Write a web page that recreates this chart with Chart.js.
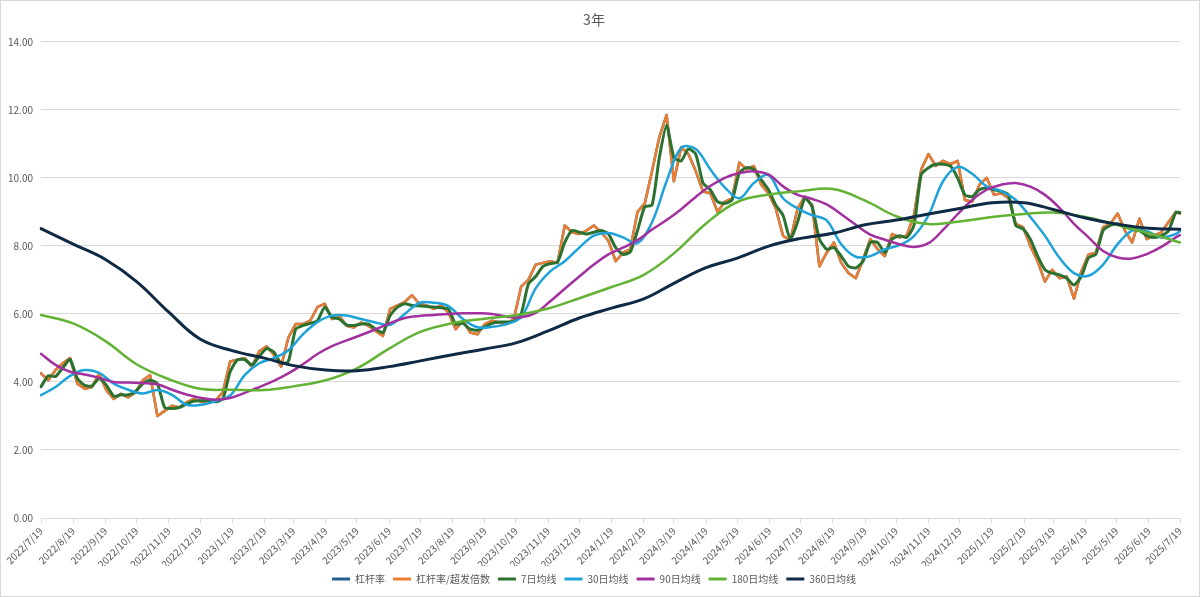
<!DOCTYPE html>
<html>
<head>
<meta charset="utf-8">
<script src="https://cdn.jsdelivr.net/npm/chart.js@4.4.1/dist/chart.umd.min.js"></script>
<style>
html,body{margin:0;padding:0;background:#fff;}
#wrap{width:1200px;height:597px;box-sizing:border-box;border:1px solid #d9d9d9;background:#fff;}
canvas{display:block;}
</style>
</head>
<body>
<div id="wrap"><canvas id="c" width="1198" height="595"></canvas></div>
<script>
// ---- categories (daily dates) ----
const startDate = '2022/7/19';
const endDate = '2025/7/19';
function buildDayLabels(a, b) {
  const p = s => { const [y, m, d] = s.split('/').map(Number); return Date.UTC(y, m - 1, d); };
  const out = [];
  for (let t = p(a); t <= p(b); t += 86400000) {
    const dt = new Date(t);
    out.push(dt.getUTCFullYear() + '/' + (dt.getUTCMonth() + 1) + '/' + dt.getUTCDate());
  }
  return out;
}
const dayLabels = buildDayLabels(startDate, endDate);
const lastIdx = dayLabels.length - 1;
const weeklyDates = dayLabels.filter((_, i) => i % 7 === 0 || i === lastIdx);
const biweeklyDates = dayLabels.filter((_, i) => i % 14 === 0 || i === lastIdx);
const tickLabels = dayLabels.filter(d => d.endsWith('/19'));
const monthlyDates = tickLabels;

// ---- series values ----
const leverage = [
  4.25, 4.05, 4.35, 4.55, 4.70, 3.95, 3.80, 3.85, 4.25, 3.75, 3.50, 3.65, 3.55, 3.70, 4.05, 4.20, 3.00, 3.15, 3.30, 3.25, 3.40, 3.50, 3.42,
  3.40, 3.45, 3.70, 4.60, 4.65, 4.70, 4.45, 4.90, 5.05, 4.80, 4.45, 5.30, 5.70, 5.70, 5.80, 6.20, 6.30, 5.85, 5.95, 5.65, 5.60, 5.75, 5.65, 5.50, 5.35, 6.15, 6.25,
  6.35, 6.55, 6.30, 6.25, 6.15, 6.25, 6.05, 5.55, 5.80, 5.45, 5.40, 5.70, 5.80, 5.75, 5.70, 5.85, 6.80, 7.00, 7.45, 7.50, 7.55, 7.50, 8.60, 8.40, 8.35, 8.45, 8.60, 8.40,
  8.15, 7.55, 7.80, 7.90, 9.00, 9.25, 10.20, 11.20, 11.85, 9.90, 10.90, 10.70, 10.20, 9.60, 9.55, 9.00, 9.30, 9.40, 10.45, 10.25, 10.35, 9.80, 9.55, 9.10, 8.30, 8.15, 9.10,
  9.45, 9.20, 7.40, 7.80, 8.10, 7.50, 7.20, 7.05, 7.60, 8.20, 7.90, 7.70, 8.35, 8.25, 8.30, 8.90, 10.25, 10.70, 10.35, 10.50, 10.40, 10.50, 9.35, 9.30, 9.80, 10.00, 9.50,
  9.55, 9.40, 8.65, 8.55, 8.00, 7.55, 6.95, 7.30, 7.05, 7.10, 6.45, 7.25, 7.75, 7.80, 8.55, 8.65, 8.95, 8.45, 8.10, 8.80, 8.20, 8.30, 8.40, 8.70, 9.00,
  8.95
];
const leverageRatio = leverage.slice();
const ma7 = [
  3.86, 4.18, 4.16, 4.42, 4.66, 4.10, 3.90, 3.88, 4.10, 3.90, 3.58, 3.62, 3.62, 3.72, 3.95, 4.05, 3.95, 3.25, 3.22, 3.25, 3.35, 3.44, 3.45,
  3.45, 3.42, 3.50, 4.30, 4.65, 4.66, 4.50, 4.75, 4.98, 4.88, 4.55, 4.60, 5.55, 5.66, 5.72, 5.80, 6.20, 5.90, 5.85, 5.68, 5.66, 5.70, 5.70, 5.55, 5.45, 5.95, 6.20,
  6.30, 6.25, 6.24, 6.22, 6.20, 6.18, 6.15, 5.70, 5.72, 5.55, 5.52, 5.62, 5.72, 5.76, 5.76, 5.78, 6.00, 6.88, 7.10, 7.40, 7.48, 7.52, 8.10, 8.45, 8.40, 8.35, 8.40, 8.45,
  8.35, 7.95, 7.75, 7.82, 8.45, 9.15, 9.20, 10.60, 11.55, 10.60, 10.50, 10.85, 10.70, 9.85, 9.65, 9.30, 9.25, 9.35, 10.15, 10.30, 10.25, 9.95, 9.65, 9.20, 8.90, 8.20, 8.70,
  9.40, 9.15, 8.20, 7.90, 7.95, 7.70, 7.40, 7.35, 7.55, 8.10, 8.10, 7.80, 8.20, 8.30, 8.25, 8.60, 10.10, 10.30, 10.40, 10.40, 10.35, 10.00, 9.50, 9.45, 9.65, 9.70, 9.65,
  9.60, 9.50, 8.60, 8.50, 8.20, 7.70, 7.30, 7.20, 7.15, 7.05, 6.85, 7.10, 7.65, 7.75, 8.45, 8.60, 8.65, 8.55, 8.50, 8.45, 8.30, 8.25, 8.30, 8.45, 8.98,
  8.98
];
const ma30 = [
  3.61, 3.85, 4.18, 4.35, 4.27, 3.95, 3.77, 3.66, 3.76, 3.62, 3.33, 3.33, 3.44, 3.60, 4.20, 4.55, 4.70, 4.93, 5.40, 5.76,
  5.95, 5.95, 5.85, 5.75, 5.68, 6.00, 6.32, 6.33, 6.23, 5.85, 5.61, 5.62, 5.70, 5.90, 6.75, 7.25, 7.55, 7.95, 8.30, 8.38,
  8.25, 8.08, 8.70, 9.90, 10.88, 10.85, 10.25, 9.72, 9.40, 9.85, 10.08, 9.40, 9.10, 8.90, 8.75, 8.05, 7.68, 7.70, 7.90, 8.02,
  8.29, 8.90, 9.90, 10.32, 10.12, 9.75, 9.61, 9.35, 8.85, 8.30, 7.65, 7.20, 7.12, 7.45, 8.05, 8.45, 8.43, 8.25, 8.35,
  8.44
];
const ma90 = [
  4.83, 4.50, 4.30, 4.22, 4.12, 4.00, 3.98, 3.97, 3.93, 3.77, 3.63, 3.53, 3.48, 3.53, 3.68, 3.85, 4.03, 4.25, 4.52, 4.82,
  5.05, 5.22, 5.38, 5.55, 5.73, 5.88, 5.94, 5.97, 6.00, 6.02, 6.02, 6.00, 5.92, 5.90, 6.03, 6.37, 6.74, 7.10, 7.45, 7.75,
  7.95, 8.17, 8.48, 8.76, 9.08, 9.44, 9.76, 10.00, 10.14, 10.19, 10.10, 9.75, 9.50, 9.38, 9.22, 8.93, 8.62, 8.33, 8.18, 8.05,
  7.97, 8.08, 8.47, 8.93, 9.35, 9.65, 9.80, 9.85, 9.74, 9.50, 9.12, 8.65, 8.25, 7.85, 7.66, 7.63, 7.76, 7.97, 8.25,
  8.32
];
const ma180 = [
  5.97, 5.72, 5.20, 4.52, 4.08, 3.80, 3.77, 3.76, 3.87, 4.05, 4.40, 4.98, 5.47, 5.73, 5.86, 5.96, 6.16, 6.46, 6.79,
  7.15, 7.78, 8.66, 9.29, 9.51, 9.61, 9.67, 9.33, 8.87, 8.64, 8.72, 8.85, 8.94, 8.98, 8.85, 8.62, 8.37, 8.10
];
const ma360 = [
  8.51, 8.05, 7.60, 6.95, 6.05, 5.26, 4.92, 4.70, 4.48, 4.35, 4.33, 4.45, 4.62, 4.80, 4.97, 5.15, 5.50, 5.88, 6.17,
  6.44, 6.90, 7.36, 7.64, 8.00, 8.22, 8.37, 8.62, 8.76, 8.94, 9.10, 9.27, 9.27, 9.07, 8.82, 8.64, 8.52, 8.49
];

const seriesNames = ['杠杆率', '杠杆率/超发倍数', '7日均线', '30日均线', '90日均线', '180日均线', '360日均线'];
const seriesColors = ['#255E91', '#ED7D31', '#2B7230', '#1EA2DA', '#A2309F', '#62B235', '#0F2A44'];

const toPoints = (dates, values) => dates.map((d, i) => ({ x: d, y: values[i] }));
const seriesData = [
  toPoints(weeklyDates, leverage),
  toPoints(weeklyDates, leverageRatio),
  toPoints(weeklyDates, ma7),
  toPoints(biweeklyDates, ma30),
  toPoints(biweeklyDates, ma90),
  toPoints(monthlyDates, ma180),
  toPoints(monthlyDates, ma360)
];
const widths = [2.5, 2.5, 3, 2.5, 2.5, 2.5, 3];
const tensions = [0, 0, 0.2, 0.35, 0.4, 0.4, 0.4];

Chart.defaults.font.family = "'Noto Sans CJK SC', 'Noto Sans', sans-serif";
Chart.defaults.color = '#595959';

const datasets = seriesNames.map((name, i) => ({
  label: name,
  data: seriesData[i],
  borderColor: seriesColors[i],
  backgroundColor: seriesColors[i],
  borderWidth: widths[i],
  pointRadius: 0,
  pointHoverRadius: 0,
  tension: tensions[i],
  borderJoinStyle: 'round',
  borderCapStyle: 'round',
  fill: false,
  order: seriesNames.length - i
}));

new Chart(document.getElementById('c'), {
  type: 'line',
  data: { labels: dayLabels, datasets },
  options: {
    responsive: false,
    animation: false,
    events: [],
    layout: { padding: { left: 7, right: 19, top: 4, bottom: 2 } },
    scales: {
      x: {
        type: 'category',
        offset: false,
        afterBuildTicks: s => { s.ticks = s.ticks.filter(t => tickLabels.includes(dayLabels[t.value])); },
        afterFit: s => { s.height = 48; },
        ticks: { autoSkip: false, maxRotation: 45, minRotation: 45, color: '#595959', font: { size: 10 }, padding: 2 },
        grid: { display: true, drawOnChartArea: false, drawTicks: true, tickLength: 5, color: '#d9d9d9' },
        border: { display: true, color: '#d9d9d9' }
      },
      y: {
        min: 0,
        max: 14,
        afterFit: s => { s.width = 33; },
        ticks: { stepSize: 2, callback: v => Number(v).toFixed(2), color: '#595959', font: { size: 10 }, padding: 8 },
        grid: { color: '#d9d9d9', drawTicks: false },
        border: { display: false }
      }
    },
    plugins: {
      title: { display: true, text: '3年', color: '#595959', font: { size: 14, weight: 'normal' }, padding: { top: 6, bottom: 14 } },
      legend: {
        position: 'bottom',
        reverse: true,
        labels: {
          boxWidth: 18,
          boxHeight: 3,
          padding: 8,
          color: '#595959',
          font: { size: 10 },
          generateLabels: chart => Chart.defaults.plugins.legend.labels.generateLabels(chart).map(it => Object.assign(it, { lineWidth: 0 }))
        }
      },
      tooltip: { enabled: false }
    }
  }
});
</script>
</body>
</html>
